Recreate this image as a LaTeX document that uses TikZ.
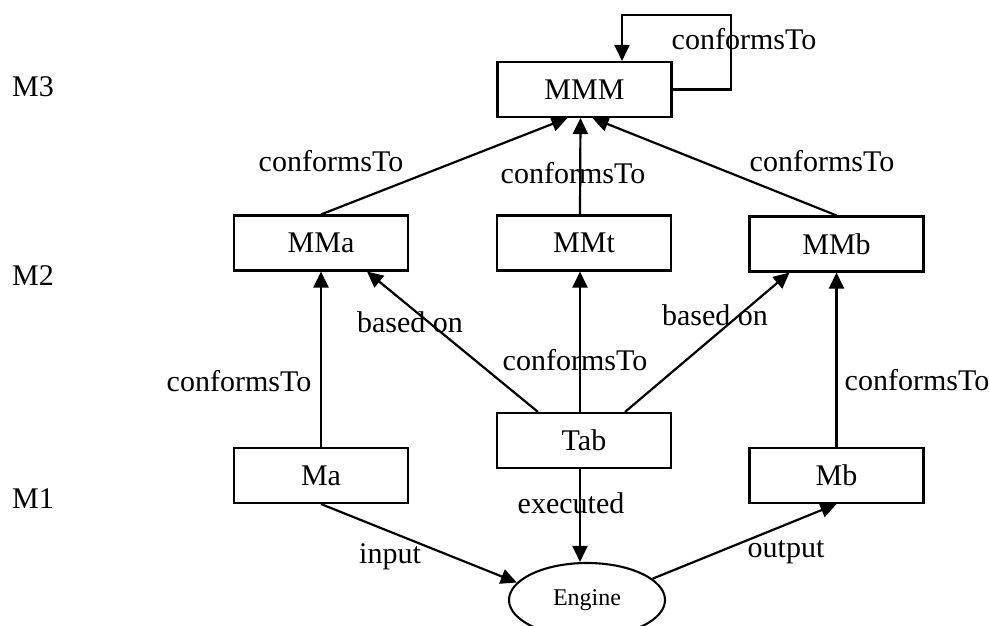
\documentclass[tikz,border=0pt]{standalone}
\usepackage{fontspec}
\setmainfont{Liberation Serif}
\usetikzlibrary{arrows.meta,shapes.geometric}
\tikzset{
  box/.style={draw, line width=2.1pt, minimum width=174pt, minimum height=55pt,
              inner sep=0pt, font=\fontsize{30}{33}\selectfont},
  lbl/.style={inner sep=0pt, anchor=base, font=\fontsize{30}{33}\selectfont},
  arr/.style={line width=2.2pt, -{Triangle[length=16pt,width=15pt]}},
}
\begin{document}
\begin{tikzpicture}[x=1pt,y=-1pt]
  \clip (0,0) rectangle (989,626);
  \fill[white] (0,0) rectangle (989,626);

  % level labels
  \node[lbl, anchor=base west] (L3) at (12,97)  {M3};
  \node[lbl, anchor=base west] (L2) at (12,285) {M2};
  \node[lbl, anchor=base west] (L1) at (12,508) {M1};

  % model boxes
  \node[box] (MMM) at (584.5,89.5) {MMM};
  \node[box] (MMa) at (321,243)  {MMa};
  \node[box] (MMt) at (584,243)  {MMt};
  \node[box] (MMb) at (836.5,244)  {MMb};
  \node[box] (Tab) at (584,440.5) {Tab};
  \node[box] (Ma)  at (321,475.5) {Ma};
  \node[box] (Mb)  at (836.5,475.5) {Mb};
  \node[draw, ellipse, line width=2.1pt, minimum width=156pt, minimum height=74pt,
        inner sep=0pt, font=\fontsize{24}{27}\selectfont] (Engine) at (587,600) {Engine};

  % self loop on MMM
  \coordinate (loopA) at (731,15);
  \coordinate (loopB) at (622,15);
  \draw[arr] (MMM.east) -| (loopA) -- (loopB) -- (loopB |- MMM.north);

  % conformance to the meta-metamodel
  \draw[arr] (MMa.north) -- ([xshift=-17pt]MMM.south);
  \draw[arr] ([xshift=-4pt]MMt.north) -- ([xshift=-4pt]MMM.south);
  \draw[arr] (MMb.north) -- ([xshift=8pt]MMM.south);

  % models to metamodels
  \draw[arr] (Ma.north) -- (MMa.south);
  \draw[arr] (Mb.north) -- (MMb.south);
  \draw[arr] ([xshift=-4pt]Tab.north) -- ([xshift=-4pt]MMt.south);
  \draw[arr] ([xshift=-46pt]Tab.north) -- ([xshift=46pt]MMa.south);
  \draw[arr] ([xshift=41pt]Tab.north) -- ([xshift=-47pt]MMb.south);

  % execution
  \draw[arr] ([xshift=-4pt]Tab.south) -- ([xshift=-4pt]Tab.south |- Engine.north);
  \draw[arr] (Ma.south) -- (Engine.166);
  \draw[arr] (Engine.18) -- (Mb.south);

  % connector labels
  \node[lbl] (tLoop) at (744,50)  {conformsTo};
  \node[lbl] (tUL)   at (331,171) {conformsTo};
  \node[lbl] (tUM)   at (573,183) {conformsTo};
  \node[lbl] (tUR)   at (822,171) {conformsTo};
  \node[lbl] (tBL)   at (410,332) {based on};
  \node[lbl] (tBR)   at (715,325) {based on};
  \node[lbl] (tLM)   at (575,370) {conformsTo};
  \node[lbl] (tLL)   at (239,391) {conformsTo};
  \node[lbl] (tLR)   at (917,390) {conformsTo};
  \node[lbl] (tEx)   at (571,513) {executed};
  \node[lbl] (tIn)   at (390,563) {input};
  \node[lbl] (tOut)  at (786,557) {output};
\end{tikzpicture}
\end{document}
